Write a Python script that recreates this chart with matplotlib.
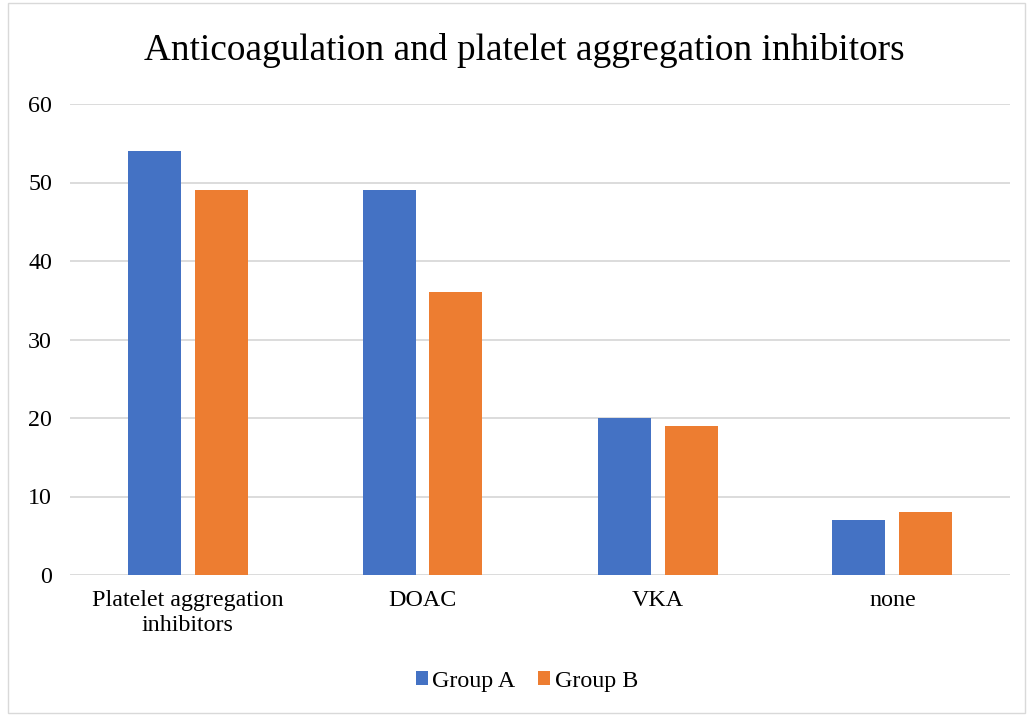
import matplotlib
matplotlib.use("Agg")
import matplotlib.pyplot as plt
import numpy as np
from matplotlib.patches import Rectangle

categories = ["Platelet aggregation\ninhibitors", "DOAC", "VKA", "none"]
group_a = [54, 49, 20, 7]
group_b = [49, 36, 19, 8]
series_names = ["Group A", "Group B"]
yticks = [0, 10, 20, 30, 40, 50, 60]

plt.rcParams['font.family'] = ['Liberation Serif', 'DejaVu Serif']

W, H = 1029, 715
fig = plt.figure(figsize=(W/100, H/100), dpi=100)
ax = fig.add_axes([70/W, (H-575)/H, 940/W, 471/H])

x = np.arange(len(categories))
bw = 53/235
gap = 14/235
off = (bw + gap)/2
ax.bar(x - off, group_a, bw, color="#4472C4", label=series_names[0], zorder=3)
ax.bar(x + off, group_b, bw, color="#ED7D31", label=series_names[1], zorder=3)

fs = 17.3
ax.set_xlim(-0.5, len(categories)-0.5)
ax.set_ylim(0, 60)
ax.set_yticks(yticks)
ax.set_yticklabels([str(v) for v in yticks], fontsize=fs)
ax.set_xticks(x)
ax.set_xticklabels(categories, fontsize=fs, linespacing=1.25)
ax.tick_params(axis='both', length=0)
ax.tick_params(axis='y', pad=13)
ax.tick_params(axis='x', pad=11)
ax.grid(axis='y', color="#D9D9D9", linewidth=1.3, zorder=0)
for s in ax.spines.values():
    s.set_visible(False)

fig.text(524/W, 1-51/H, "Anticoagulation and platelet aggregation inhibitors",
         ha='center', va='center', fontsize=26.8)

fig.legend(loc='center', bbox_to_anchor=(527/W, 1-681/H), ncol=2, frameon=False,
           fontsize=fs, handlelength=0.5, handleheight=0.5, handletextpad=0.18,
           columnspacing=0.95)

fig.patches.append(Rectangle((8/W, 2/H), (W-12)/W, (H-5)/H, transform=fig.transFigure,
                             fill=False, edgecolor="#D9D9D9", linewidth=1))

fig.savefig("out.png", dpi=100)
